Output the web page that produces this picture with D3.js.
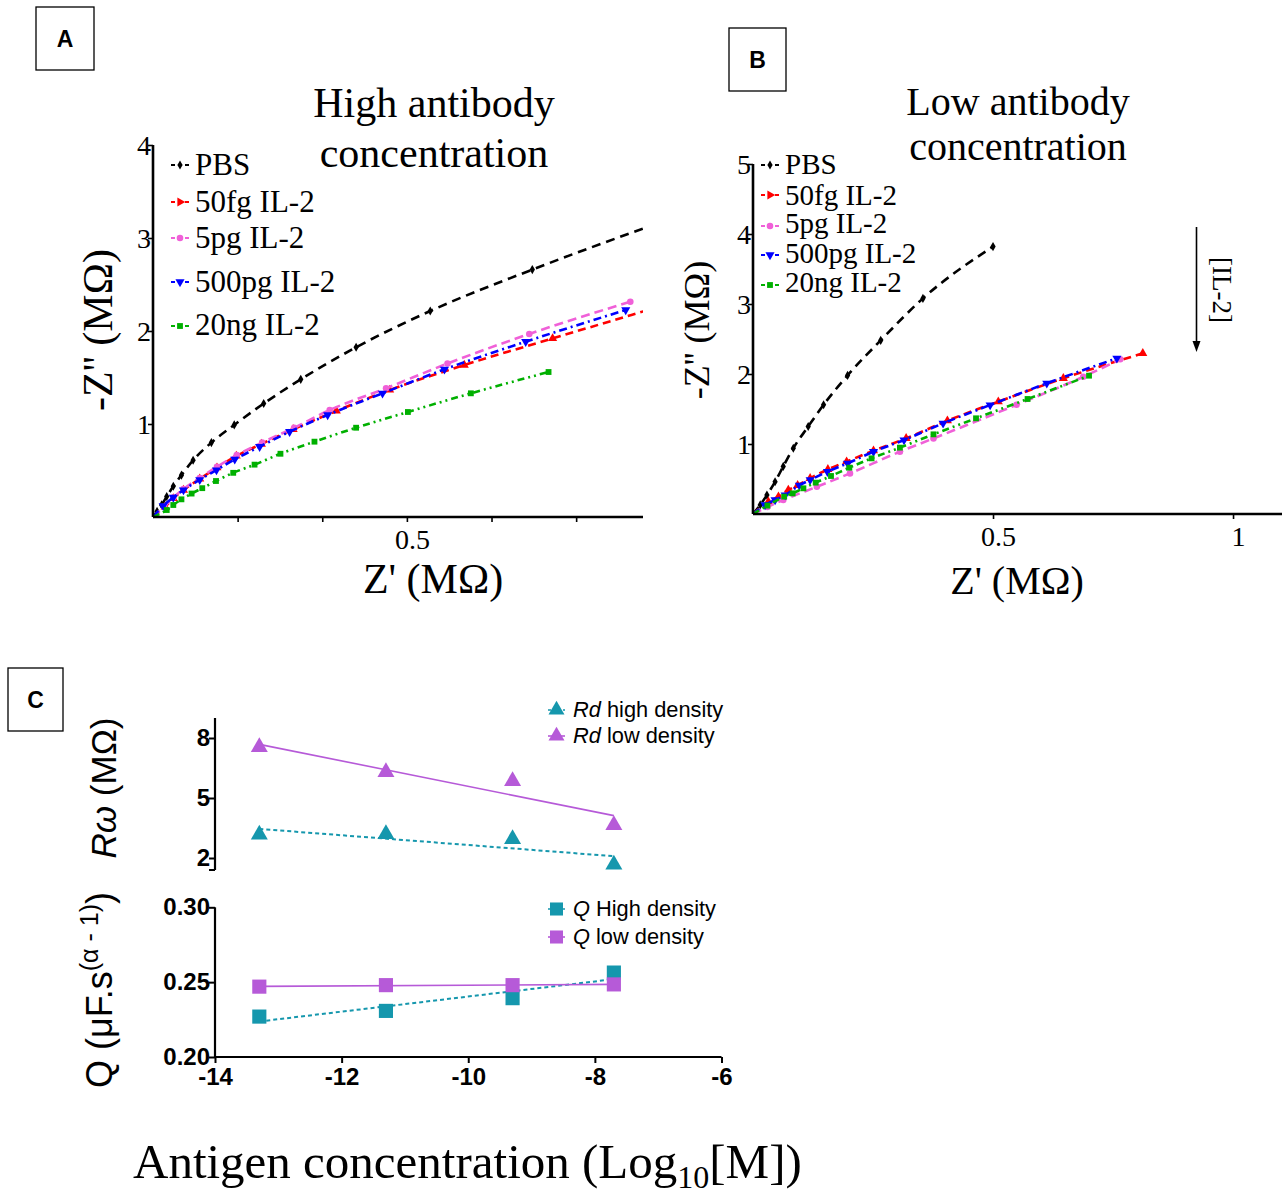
<!DOCTYPE html>
<html><head><meta charset="utf-8">
<script src="https://cdn.jsdelivr.net/npm/d3@7"></script>
<style>body{margin:0;background:#fff}svg{display:block}</style>
</head><body>
<svg id="c" width="1285" height="1191"></svg>
<script>
// ---------------- DATA ----------------
const seriesNames = ["PBS", "50fg IL-2", "5pg IL-2", "500pg IL-2", "20ng IL-2"];
// Panel A : high antibody concentration, [Z' (MΩ), -Z'' (MΩ)]
const aPBS = [[0,0],[0.008,0.06],[0.017,0.13],[0.027,0.22],[0.040,0.33],[0.056,0.45],[0.079,0.61],[0.115,0.80],[0.160,0.99],[0.218,1.22],[0.291,1.48],[0.400,1.825],[0.546,2.215],[0.747,2.66],[0.99,3.15]];
const a50fg = [[0,0],[0.024,0.11],[0.040,0.20],[0.060,0.29],[0.092,0.41],[0.126,0.53],[0.164,0.656],[0.2135,0.785],[0.276,0.943],[0.361,1.14],[0.466,1.366],[0.613,1.634],[0.787,1.92],[0.99,2.25]];
const a5pg = [[0,0],[0.022,0.11],[0.040,0.21],[0.060,0.30],[0.092,0.42],[0.126,0.54],[0.165,0.665],[0.215,0.80],[0.278,0.96],[0.348,1.15],[0.459,1.384],[0.580,1.65],[0.741,1.968],[0.940,2.315]];
const a500pg = [[0,0],[0.020,0.12],[0.040,0.21],[0.060,0.29],[0.092,0.40],[0.125,0.505],[0.161,0.62],[0.210,0.756],[0.269,0.917],[0.344,1.097],[0.452,1.33],[0.574,1.588],[0.734,1.885],[0.931,2.226]];
const a20ng = [[0,0],[0.027,0.075],[0.040,0.129],[0.056,0.19],[0.076,0.252],[0.097,0.31],[0.124,0.387],[0.158,0.475],[0.200,0.563],[0.251,0.68],[0.318,0.81],[0.400,0.96],[0.502,1.129],[0.626,1.33],[0.779,1.559]];
// Panel B : low antibody concentration
const bPBS = [[0,0],[0.015,0.13],[0.029,0.27],[0.046,0.46],[0.063,0.68],[0.084,0.94],[0.115,1.25],[0.147,1.56],[0.197,1.98],[0.266,2.48],[0.354,3.08],[0.500,3.82]];
const b50fg = [[0,0],[0.032,0.176],[0.053,0.248],[0.0736,0.343],[0.093,0.41],[0.119,0.51],[0.156,0.638],[0.195,0.748],[0.251,0.905],[0.319,1.081],[0.405,1.333],[0.511,1.605],[0.6465,1.938],[0.812,2.295]];
const b5pg = [[0,0],[0.03,0.10],[0.063,0.20],[0.133,0.39],[0.202,0.58],[0.306,0.89],[0.376,1.08],[0.549,1.56],[0.688,1.96],[0.765,2.21]];
const b500pg = [[0,0],[0.025,0.129],[0.046,0.20],[0.067,0.27],[0.0965,0.41],[0.119,0.486],[0.155,0.605],[0.197,0.724],[0.251,0.89],[0.3146,1.057],[0.396,1.295],[0.494,1.557],[0.612,1.867],[0.758,2.224]];
const b20ng = [[0,0],[0.03,0.12],[0.065,0.248],[0.0826,0.295],[0.105,0.367],[0.1306,0.448],[0.1625,0.543],[0.2007,0.662],[0.247,0.795],[0.306,0.948],[0.376,1.138],[0.4646,1.367],[0.572,1.643],[0.700,1.976]];
// Panel C
const logConc = [-13.3, -11.3, -9.3, -7.7];
const rdHigh = [3.17, 3.20, 2.95, 1.67];
const rdLow = [7.55, 6.30, 5.85, 3.65];
const qHigh = [0.227, 0.2308, 0.2393, 0.2564];
const qLow = [0.247, 0.248, 0.248, 0.2485];
const aYTicks = [1, 2, 3, 4];
const aXTicks = [1/6, 2/6, 0.5, 4/6, 5/6];
const bYTicks = [1, 2, 3, 4, 5];
const bXTicks = [0.5, 1];
const cXTicks = [-14, -12, -10, -8, -6];
const rTicks = [2, 5, 8];
const qTicks = [0.20, 0.25, 0.30];

// ---------------- STYLE ----------------
const serif = "'Liberation Serif','Times New Roman',serif";
const sans = "'Liberation Sans',Arial,sans-serif";
const styles = [
  {color:"#000000", dash:"9,6", sym:d3.symbolDiamond, size:24, rot:0},
  {color:"#ff0000", dash:"8,5", sym:d3.symbolTriangle, size:36, rot:0},
  {color:"#f060d8", dash:"9,5", sym:d3.symbolCircle, size:34, rot:0},
  {color:"#0000ff", dash:"8,4,2,4", sym:d3.symbolTriangle, size:36, rot:180},
  {color:"#00b000", dash:"7,4,2,4,2,4", sym:d3.symbolSquare, size:34, rot:0}
];
const teal = "#1597ad", purple = "#b65ad8";

const svg = d3.select("#c");
svg.append("rect").attr("width",1285).attr("height",1191).attr("fill","#fff");

function box(x, y, w, h, label){
  svg.append("rect").attr("x",x).attr("y",y).attr("width",w).attr("height",h)
    .attr("fill","none").attr("stroke","#000").attr("stroke-width",1.3);
  svg.append("text").attr("x",x+w/2).attr("y",y+h/2+8).attr("text-anchor","middle")
    .attr("font-family","'Liberation Sans Narrow','Liberation Sans',Arial,sans-serif")
    .attr("font-weight","bold").attr("font-size",23).text(label);
}
box(36,7,58,63,"A"); box(729,28,57,63,"B"); box(8,668,55,63,"C");

function nyquist(opt){
  const {x0,x1,y0,y1,xDom,yDom,data,yTicks,xTicks,xLabels,id} = opt;
  const x = d3.scaleLinear().domain(xDom).range([x0,x1]);
  const y = d3.scaleLinear().domain(yDom).range([y0,y1]);
  const g = svg.append("g");
  g.append("clipPath").attr("id",id).append("rect")
    .attr("x",x0-6).attr("y",y1-6).attr("width",x1-x0+6).attr("height",y0-y1+12);
  const plot = g.append("g").attr("clip-path",`url(#${id})`);
  const line = d3.line().x(d=>x(d[0])).y(d=>y(d[1])).curve(d3.curveMonotoneX);
  data.forEach((ser,i)=>{
    const s = styles[i];
    plot.append("path").attr("d",line(ser)).attr("fill","none").attr("stroke",s.color)
      .attr("stroke-width",2.6).attr("stroke-dasharray",s.dash);
    plot.selectAll(null).data(ser.slice(1)).join("path")
      .attr("d",d3.symbol().type(s.sym).size(s.size))
      .attr("transform",d=>`translate(${x(d[0])},${y(d[1])}) rotate(${s.rot})`)
      .attr("fill",s.color);
  });
  // axes
  const yAxis = g.append("g").attr("transform",`translate(${x0},0)`)
    .call(d3.axisLeft(y).tickValues(yTicks).tickSize(5).tickFormat(d3.format("d")));
  const xAxis = g.append("g").attr("transform",`translate(0,${y0})`)
    .call(d3.axisBottom(x).tickValues(xTicks).tickSize(5).tickFormat(d=>xLabels.includes(d)?d3.format("")(d):""));
  [yAxis,xAxis].forEach(a=>{
    a.attr("font-family",serif).attr("font-size",28);
    a.select(".domain").attr("stroke-width",2.6).attr("d",null);
    a.selectAll(".tick line").attr("stroke-width",1.6);
    a.selectAll("text").attr("font-family",serif).attr("font-size",28).attr("fill","#000");
  });
  yAxis.select(".domain").attr("d",`M0,${y0}V${y1}`);
  xAxis.select(".domain").attr("d",`M${x0},0H${x1}`);
  yAxis.selectAll(".tick text").attr("x",-2).attr("dy","0.34em");
  xAxis.selectAll(".tick text").attr("dx",5).attr("y",12).attr("dy","0.71em");
  return {x,y};
}

const A = nyquist({x0:153,x1:643,y0:517,y1:145,xDom:[0,0.965],yDom:[0,4],
  data:[aPBS,a50fg,a5pg,a500pg,a20ng],yTicks:aYTicks,xTicks:aXTicks,xLabels:[0.5],id:"clipA"});
const B = nyquist({x0:753,x1:1282,y0:514,y1:164,xDom:[0,1.102],yDom:[0,5],
  data:[bPBS,b50fg,b5pg,b500pg,b20ng],yTicks:bYTicks,xTicks:bXTicks,xLabels:[0.5,1],id:"clipB"});

function legend(xm, ys, yt, fs){
  seriesNames.forEach((n,i)=>{
    const s = styles[i];
    svg.append("line").attr("x1",xm-9).attr("x2",xm+9).attr("y1",ys[i]).attr("y2",ys[i])
      .attr("stroke",s.color).attr("stroke-width",2.2).attr("stroke-dasharray","4,3");
    svg.append("path").attr("d",d3.symbol().type(s.sym).size(s.size))
      .attr("transform",`translate(${xm},${ys[i]}) rotate(${i===1||i===3?(i===3?180:90):0})`).attr("fill",s.color);
    svg.append("text").attr("x",xm+15).attr("y",yt[i]).attr("font-family",serif)
      .attr("font-size",fs).text(n);
  });
}
legend(180,[165,202,238,282,326],[175,212,248,292,335],31);
legend(770,[165,195,226,255,285],[174,205,233,263,292],29);

function txt(x,y,t,fs,fam,anchor="middle",rot=0){
  return svg.append("text").attr("transform",`translate(${x},${y}) rotate(${rot})`)
    .attr("text-anchor",anchor).attr("font-family",fam).attr("font-size",fs).text(t);
}
// Titles A
txt(434,117,"High antibody",42,serif); txt(434,167,"concentration",42,serif);
txt(112,330,"-Z'' (MΩ)",42,serif,"middle",-90);
txt(433,593,"Z' (MΩ)",42,serif);
// Titles B
txt(1018,115,"Low antibody",40,serif); txt(1018,160,"concentration",40,serif);
txt(709,330,"-Z'' (MΩ)",36,serif,"middle",-90);
txt(1017,594,"Z' (MΩ)",40,serif);
// [IL-2] arrow
svg.append("line").attr("x1",1196.5).attr("x2",1196.5).attr("y1",227).attr("y2",344)
  .attr("stroke","#000").attr("stroke-width",1.6);
svg.append("path").attr("d","M1192.5,341L1196.5,352L1200.5,341Z").attr("fill","#000");
txt(1213,290,"[IL-2]",27,serif,"middle",90);

// ---------------- Panel C ----------------
const xC = d3.scaleLinear().domain([-14,-6]).range([215,721.5]);
const yR = d3.scaleLinear().domain([1.4,9]).range([870,718]);
const yQ = d3.scaleLinear().domain([0.20,0.30]).range([1057,907.3]);

function fit(xs, ys){
  const mx = d3.mean(xs), my = d3.mean(ys);
  const b = d3.sum(xs,(v,i)=>(v-mx)*(ys[i]-my))/d3.sum(xs,v=>(v-mx)**2);
  return v => my + b*(v-mx);
}
const gC = svg.append("g");
function series(vals, ysc, col, dashed, sym, size){
  const f = fit(logConc, vals);
  const ends = [logConc[0], logConc[logConc.length-1]];
  gC.append("line").attr("x1",xC(ends[0])).attr("x2",xC(ends[1]))
    .attr("y1",ysc(f(ends[0]))).attr("y2",ysc(f(ends[1])))
    .attr("stroke",col).attr("stroke-width",dashed?2:1.6).attr("stroke-dasharray",dashed?"4,3":null);
  gC.selectAll(null).data(logConc).join("path")
    .attr("d",d3.symbol().type(sym).size(size))
    .attr("transform",(d,i)=>`translate(${xC(d)},${ysc(vals[i])})`).attr("fill",col);
}
series(rdHigh,yR,teal,true,d3.symbolTriangle,125);
series(rdLow,yR,purple,false,d3.symbolTriangle,125);
series(qHigh,yQ,teal,true,d3.symbolSquare,200);
series(qLow,yQ,purple,false,d3.symbolSquare,200);

const hyph = f => d => f(d).replace("\u2212","-");
const axR = gC.append("g").attr("transform","translate(215,0)")
  .call(d3.axisLeft(yR).tickValues(rTicks).tickSize(6).tickFormat(d3.format("d")));
const axQ = gC.append("g").attr("transform","translate(215,0)")
  .call(d3.axisLeft(yQ).tickValues(qTicks).tickSize(6).tickFormat(d3.format(".2f")));
const axX = gC.append("g").attr("transform","translate(0,1057)")
  .call(d3.axisBottom(xC).tickValues(cXTicks).tickSize(6).tickFormat(hyph(d3.format("d"))));
[axR,axQ,axX].forEach(a=>{
  a.select(".domain").attr("stroke-width",2.2);
  a.selectAll(".tick line").attr("stroke-width",2);
  a.selectAll("text").attr("font-family",sans).attr("font-weight","bold").attr("font-size",24).attr("fill","#000");
});
axR.select(".domain").attr("d","M0,870V718");
axR.append("line").attr("x1",-6).attr("x2",0).attr("y1",870).attr("y2",870).attr("stroke","#000").attr("stroke-width",2);
axQ.select(".domain").attr("d",`M0,${yQ(0.20)}V${yQ(0.30)}`);
axX.select(".domain").attr("d","M215,0H721.5");
axR.selectAll(".tick text").attr("x",-5);
axQ.selectAll(".tick text").attr("x",-5);
axX.selectAll(".tick text").attr("y",11);

// legends C
function cleg(y, col, sym, size, dashed, it, rest){
  gC.append("line").attr("x1",548).attr("x2",565).attr("y1",y).attr("y2",y)
    .attr("stroke",col).attr("stroke-width",1.6).attr("stroke-dasharray",dashed?"3,2":null);
  gC.append("path").attr("d",d3.symbol().type(sym).size(size)).attr("transform",`translate(556.5,${y})`).attr("fill",col);
  const t = gC.append("text").attr("x",573).attr("y",y+7).attr("font-family",sans).attr("font-size",21.8);
  t.append("tspan").attr("font-style","italic").text(it);
  t.append("tspan").text(rest);
}
cleg(710,teal,d3.symbolTriangle,110,true,"Rd"," high density");
cleg(736,purple,d3.symbolTriangle,110,false,"Rd"," low density");
cleg(909,teal,d3.symbolSquare,170,true,"Q"," High density");
cleg(937,purple,d3.symbolSquare,170,false,"Q"," low density");

// y labels C
const rl = svg.append("text").attr("transform","translate(116,788) rotate(-90)")
  .attr("text-anchor","middle").attr("font-family",sans).attr("font-size",35);
rl.append("tspan").attr("font-style","italic").text("Rω");
rl.append("tspan").text(" (MΩ)");
const ql = svg.append("text").attr("transform","translate(112,1088) rotate(-90)")
  .attr("text-anchor","start").attr("font-family",sans).attr("font-size",36);
ql.append("tspan").text("Q (μF.s");
ql.append("tspan").attr("font-size",25).attr("dy",-14).text("(α - 1)");
ql.append("tspan").attr("dy",14).text(")");

// bottom title
const bt = svg.append("text").attr("x",133).attr("y",1178).attr("font-family",serif).attr("font-size",49);
bt.append("tspan").text("Antigen concentration (Log");
bt.append("tspan").attr("font-size",32).attr("dy",10).text("10");
bt.append("tspan").attr("dy",-10).text("[M])");
</script>
</body></html>
